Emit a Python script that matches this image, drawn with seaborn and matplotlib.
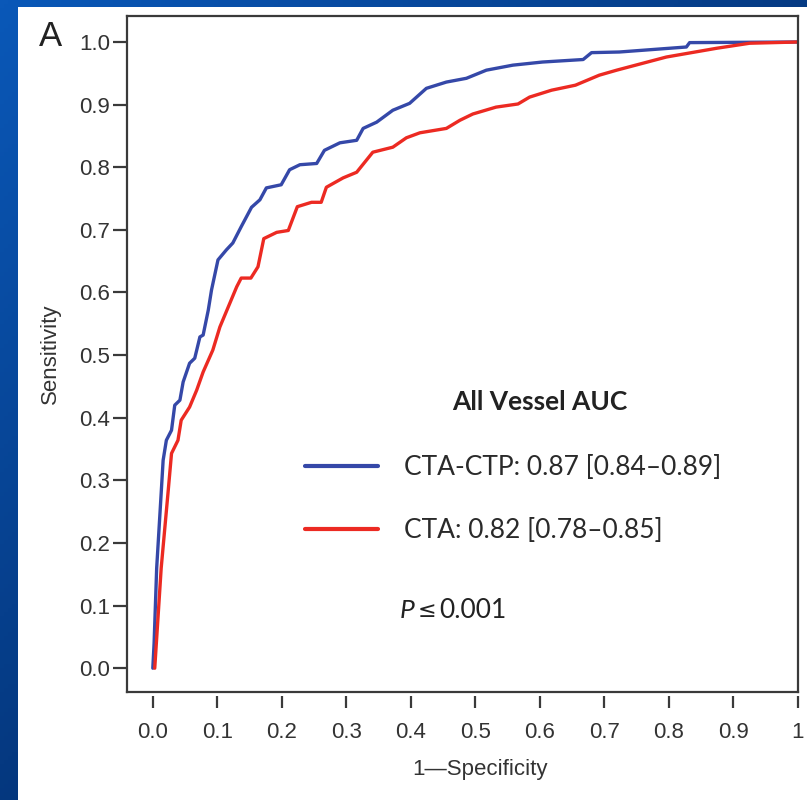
import numpy as np
import pandas as pd
import seaborn as sns
import matplotlib.pyplot as plt
from matplotlib.patches import Rectangle

# ROC curves (1-specificity, sensitivity)
cta_ctp_fpr = [0.0, 0.002, 0.006, 0.013, 0.016, 0.021, 0.029, 0.034, 0.042, 0.047, 0.057, 0.065,
               0.073, 0.078, 0.086, 0.091, 0.101, 0.114, 0.124, 0.137, 0.153, 0.166, 0.176, 0.199,
               0.212, 0.228, 0.254, 0.266, 0.290, 0.316, 0.326, 0.347, 0.372, 0.398, 0.424, 0.455,
               0.486, 0.517, 0.558, 0.604, 0.667, 0.680, 0.723, 0.827, 0.832, 1.0]
cta_ctp_tpr = [0.0, 0.04, 0.16, 0.28, 0.332, 0.364, 0.38, 0.42, 0.428, 0.457, 0.487, 0.495,
               0.529, 0.532, 0.572, 0.604, 0.652, 0.668, 0.679, 0.705, 0.736, 0.748, 0.767, 0.772,
               0.796, 0.804, 0.806, 0.827, 0.839, 0.843, 0.862, 0.872, 0.891, 0.902, 0.926, 0.936,
               0.942, 0.955, 0.963, 0.968, 0.972, 0.983, 0.984, 0.992, 0.999, 1.0]

cta_fpr = [0.003, 0.013, 0.024, 0.029, 0.039, 0.044, 0.057, 0.068, 0.078, 0.093, 0.104, 0.117,
           0.130, 0.137, 0.152, 0.163, 0.172, 0.192, 0.210, 0.224, 0.246, 0.261, 0.269, 0.295,
           0.316, 0.341, 0.372, 0.393, 0.414, 0.455, 0.476, 0.496, 0.532, 0.566, 0.584, 0.618,
           0.655, 0.692, 0.719, 0.796, 0.874, 0.925, 1.0]
cta_tpr = [0.0, 0.16, 0.285, 0.343, 0.364, 0.396, 0.417, 0.444, 0.473, 0.508, 0.545, 0.577,
           0.609, 0.623, 0.623, 0.641, 0.686, 0.696, 0.699, 0.737, 0.744, 0.744, 0.768, 0.783,
           0.792, 0.824, 0.832, 0.847, 0.855, 0.862, 0.875, 0.885, 0.896, 0.901, 0.912, 0.923,
           0.931, 0.947, 0.955, 0.976, 0.990, 0.998, 1.0]

series_labels = ['CTA-CTP: 0.87 [0.84\u20130.89]', 'CTA: 0.82 [0.78\u20130.85]']
series_colors = ['#3548a8', '#ec2a22']
x_ticks = [0.0, 0.1, 0.2, 0.3, 0.4, 0.5, 0.6, 0.7, 0.8, 0.9, 1.0]
x_tick_labels = ['0.0', '0.1', '0.2', '0.3', '0.4', '0.5', '0.6', '0.7', '0.8', '0.9', '1']
y_ticks = [0.0, 0.1, 0.2, 0.3, 0.4, 0.5, 0.6, 0.7, 0.8, 0.9, 1.0]
y_tick_labels = ['0.0', '0.1', '0.2', '0.3', '0.4', '0.5', '0.6', '0.7', '0.8', '0.9', '1.0']

df = pd.concat([
    pd.DataFrame({'fpr': cta_ctp_fpr, 'tpr': cta_ctp_tpr, 'model': series_labels[0]}),
    pd.DataFrame({'fpr': cta_fpr, 'tpr': cta_tpr, 'model': series_labels[1]}),
])

sns.set_style('ticks')
plt.rcParams['font.family'] = ['Liberation Sans', 'DejaVu Sans']

W, H = 807, 800
fig = plt.figure(figsize=(W / 100, H / 100), dpi=100)

# blue slide background, white panel
bg = fig.add_axes([0, 0, 1, 1], zorder=-5)
gy, gx = np.mgrid[0:1:200j, 0:1:200j]
grad = 1 - 0.55 * gx - 0.6 * gy
bg.imshow(grad, cmap=sns.blend_palette(['#001a4a', '#0a58b8'], as_cmap=True),
          extent=[0, 1, 0, 1], aspect='auto', origin='upper')
bg.add_patch(Rectangle((18 / W, 0), 1, 1 - 7 / H, color='white', lw=0))
bg.set_xlim(0, 1)
bg.set_ylim(0, 1)
bg.axis('off')

ax = fig.add_axes([127 / W, 1 - 692 / H, (798 - 127) / W, (692 - 16) / H])
ax.set_facecolor('white')

sns.lineplot(data=df, x='fpr', y='tpr', hue='model', hue_order=series_labels, estimator=None,
             sort=False, palette=series_colors, linewidth=2.4, ax=ax, legend=False)

ax.set_xlim(-0.04, 1.0)
ax.set_ylim(-0.038, 1.0415)

for s in ax.spines.values():
    s.set_visible(True)
    s.set_linewidth(1.6)
    s.set_color('#3a3a3a')

ax.set_yticks(y_ticks, labels=y_tick_labels)
ax.tick_params(axis='y', length=10, width=1.6, color='#3a3a3a', labelsize=16, pad=2,
               labelcolor='#333333')
ax.tick_params(axis='x', length=0, labelbottom=False)
ax.set_xticks(x_ticks)

# detached x ticks
sec = ax.secondary_xaxis(-4 / 676)
sec.set_xticks(x_ticks, labels=x_tick_labels)
sec.spines['bottom'].set_visible(False)
sec.tick_params(axis='x', length=8.6, width=1.6, color='#3a3a3a', labelsize=16, pad=10,
                labelcolor='#333333')

ax.set_xlabel('')
ax.set_ylabel('Sensitivity', fontsize=16, color='#333333')
ax.yaxis.set_label_coords(-(127 - 61) / 671, 0.5)
fig.text(480 / W, 1 - 770 / H, '1\u2014Specificity', fontsize=16, color='#333333',
         ha='center', va='center')

fig.text(39 / W, 1 - 46 / H, 'A', fontsize=25, color='#222222', ha='left', va='baseline')

# legend block
leg_font = ['Lato', 'DejaVu Sans']
handles = ax.get_lines()[:2]
leg = ax.legend(handles, series_labels, loc='upper left', frameon=False,
                bbox_to_anchor=(305 / W, 1 - 455 / H), bbox_transform=fig.transFigure,
                borderpad=0, borderaxespad=0, handlelength=2.77, handletextpad=1.0,
                labelspacing=1.45, prop={'family': leg_font, 'size': 19})
for t in leg.get_texts():
    t.set_color('#2a2a2a')
for ln in leg.get_lines():
    ln.set_linewidth(3)

ax.text((540 - 127) / 671, (692 - 402) / 676, 'All Vessel AUC', transform=ax.transAxes,
        family=leg_font, fontsize=19, fontweight='bold', color='#222222', ha='center', va='center')
ax.text((400 - 127) / 671, (692 - 611) / 676, 'P', transform=ax.transAxes, family=leg_font,
        fontsize=19, style='italic', color='#222222', ha='left', va='center')
ax.text((418 - 127) / 671, (692 - 611) / 676, '\u2264', transform=ax.transAxes,
        family=['DejaVu Sans'], fontsize=16, color='#222222', ha='left', va='center')
ax.text((439 - 127) / 671, (692 - 611) / 676, '0.001', transform=ax.transAxes,
        family=leg_font, fontsize=19, color='#222222', ha='left', va='center')

fig.savefig('out.png', dpi=100, facecolor='white')
